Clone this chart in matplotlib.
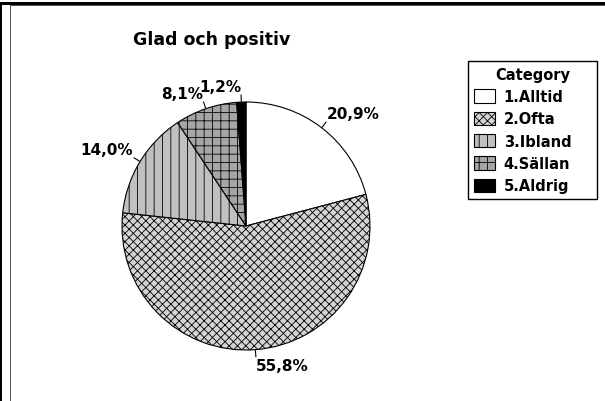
import numpy as np
import matplotlib
matplotlib.use('Agg')
import matplotlib.pyplot as plt
from matplotlib.patches import Rectangle

categories = ['1.Alltid', '2.Ofta', '3.Ibland', '4.Sällan', '5.Aldrig']
values = [20.9, 55.8, 14.0, 8.1, 1.2]
labels = ['20,9%', '55,8%', '14,0%', '8,1%', '1,2%']

faces = ['white', '#d4d4d4', '#c0c0c0', '#a6a6a6', 'black']
hatches = [None, 'xxxx', '||', '++', None]

W, H = 605, 402
plt.rcParams['hatch.linewidth'] = 0.6
fig = plt.figure(figsize=(W / 100, H / 100), dpi=100)

# frame lines like the original screenshot
def px_rect(x, y, w, h, color):
    fig.add_artist(Rectangle((x / W, 1 - (y + h) / H), w / W, h / H,
                             transform=fig.transFigure, facecolor=color,
                             edgecolor='none', zorder=0))

px_rect(0, 3.3, W, 2.5, 'black')
px_rect(10, 5.8, W - 10, 1.4, '#555555')
px_rect(0, 3.3, 2.3, H, 'black')
px_rect(10, 5.8, 1.4, H, '#555555')

ax = fig.add_axes([0, 0, 1, 1])
cx, cy, r = 246, H - 227, 124
wedges, _ = ax.pie(values, startangle=90, counterclock=False,
                   center=(cx, cy), radius=r,
                   wedgeprops=dict(edgecolor='black', linewidth=0.8))
for w, fc, h in zip(wedges, faces, hatches):
    w.set_facecolor(fc)
    if h:
        w.set_hatch(h)
ax.set_xlim(0, W)
ax.set_ylim(0, H)
ax.set_aspect('equal')
ax.axis('off')

for w, lab in zip(wedges, labels):
    ang = np.deg2rad((w.theta1 + w.theta2) / 2)
    c, s = np.cos(ang), np.sin(ang)
    ax.plot([cx + (r + 1) * c, cx + (r + 7) * c],
            [cy + (r + 1) * s, cy + (r + 7) * s], color='black', lw=0.8)
    ax.text(cx + (r + 8) * c, cy + (r + 8) * s, lab,
            ha='left' if c > 0 else 'right',
            va='bottom' if s > 0 else 'top',
            fontsize=11, fontweight='bold')

fig.text(212 / W, 1 - 40 / H, 'Glad och positiv', ha='center', va='center',
         fontsize=12.5, fontweight='bold')

leg = fig.legend(wedges, categories, title='Category',
                 loc='upper left',
                 bbox_to_anchor=(468 / W, 1 - 197 / H, 129 / W, 135 / H),
                 mode='expand', borderaxespad=0, fancybox=False,
                 framealpha=1, edgecolor='black', handlelength=1.45,
                 handleheight=1.05, handletextpad=0.6, labelspacing=0.5,
                 borderpad=0.4,
                 prop={'weight': 'bold', 'size': 10.5},
                 title_fontproperties={'weight': 'bold', 'size': 10.5})
leg.get_frame().set_linewidth(1.0)

plt.savefig('out.png', dpi=100)
plt.close()
